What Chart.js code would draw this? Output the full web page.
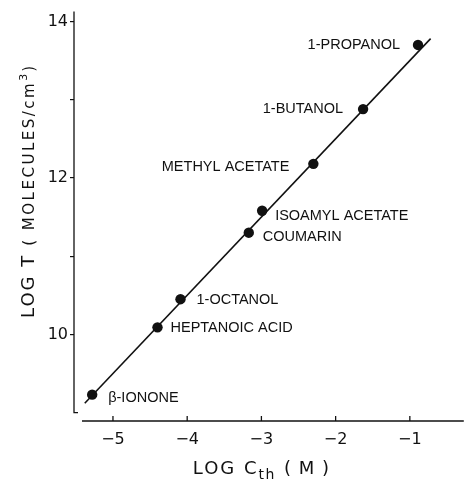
<!DOCTYPE html>
<html>
<head>
<meta charset="utf-8">
<script src="https://cdn.jsdelivr.net/npm/chart.js@4.4.0/dist/chart.umd.min.js"></script>
<style>
  html, body { margin: 0; padding: 0; background: #fff; }
</style>
</head>
<body>
<canvas id="thresholdChart" width="469" height="483"></canvas>
<script>
// values
var compounds = ['1-PROPANOL', '1-BUTANOL', 'METHYL ACETATE', 'ISOAMYL ACETATE', 'COUMARIN', '1-OCTANOL', 'HEPTANOIC ACID', 'β-IONONE'];
var logCth = [-0.89, -1.63, -2.30, -2.99, -3.17, -4.09, -4.40, -5.28];
var logT = [13.70, 12.88, 12.18, 11.58, 11.30, 10.45, 10.09, 9.23];
var fitX = [-5.38, -0.72];
var fitY = [9.12, 13.78];
var xTicks = [-5, -4, -3, -2, -1];
var yTicks = [10, 12, 14];
var yMinorTicks = [11, 13];

var ink = '#111';

// where each name sits next to its dot: [side, dx, dy]
var labelPlacement = [
    ['right', -18, 0], ['right', -20, 0], ['right', -24, 3], ['left', 13, 5],
    ['left', 14, 4], ['left', 16, 1], ['left', 13, 1], ['left', 16, 3]
];

var pointData = logCth.map(function(x, i) { return { x: x, y: logT[i] }; });
var fitData = fitX.map(function(x, i) { return { x: x, y: fitY[i] }; });

// axes in the figure are detached at the corner, so draw the lines by hand
var axisLines = {
    id: 'axisLines',
    afterDraw: function(chart) {
        var ctx = chart.ctx;
        var xs = chart.scales.x, ys = chart.scales.y;
        var area = chart.chartArea;
        ctx.save();
        ctx.strokeStyle = ink;
        ctx.lineWidth = 1.3;
        // y axis stops at 9
        var yBottom = ys.getPixelForValue(9);
        ctx.beginPath();
        ctx.moveTo(area.left, area.top);
        ctx.lineTo(area.left, yBottom);
        ctx.lineTo(area.left + 4, yBottom);
        ctx.stroke();
        // x axis
        ctx.beginPath();
        ctx.moveTo(area.left + 8, area.bottom);
        ctx.lineTo(area.right, area.bottom);
        ctx.stroke();
        xTicks.forEach(function(v) {
            var px = xs.getPixelForValue(v);
            ctx.beginPath();
            ctx.moveTo(px, area.bottom);
            ctx.lineTo(px, area.bottom - 5);
            ctx.stroke();
        });
        ctx.restore();
    }
};

var pointLabels = {
    id: 'pointLabels',
    afterDatasetsDraw: function(chart) {
        var ctx = chart.ctx;
        var meta = chart.getDatasetMeta(1);
        ctx.save();
        ctx.fillStyle = ink;
        ctx.font = '14.5px "Liberation Sans"';
        ctx.textBaseline = 'middle';
        meta.data.forEach(function(pt, i) {
            var p = labelPlacement[i];
            ctx.textAlign = p[0];
            ctx.fillText(compounds[i], pt.x + p[1], pt.y + p[2]);
        });
        ctx.restore();
    }
};

function drawPieces(ctx, pieces, x, y) {
    pieces.forEach(function(p) {
        ctx.font = p.font;
        ctx.letterSpacing = p.spacing || '0px';
        ctx.fillText(p.text, x, y + (p.shift || 0));
        x += ctx.measureText(p.text).width + (p.gap || 0);
    });
}

function piecesWidth(ctx, pieces) {
    var w = 0;
    pieces.forEach(function(p) {
        ctx.font = p.font;
        ctx.letterSpacing = p.spacing || '0px';
        w += ctx.measureText(p.text).width + (p.gap || 0);
    });
    return w;
}

var axisTitles = {
    id: 'axisTitles',
    afterDraw: function(chart) {
        var ctx = chart.ctx;
        var xs = chart.scales.x;
        ctx.save();
        ctx.fillStyle = ink;
        ctx.textAlign = 'left';
        ctx.textBaseline = 'alphabetic';

        var xTitle = [
            { text: 'LOG C', font: '18px "DejaVu Sans"', spacing: '2px' },
            { text: 'th', font: '14px "DejaVu Sans"', spacing: '1.5px', shift: 5, gap: 8 },
            { text: '( M )', font: '18px "DejaVu Sans"', spacing: '1px' }
        ];
        var cx = xs.getPixelForValue(-3);
        drawPieces(ctx, xTitle, cx - piecesWidth(ctx, xTitle) / 2, 474);

        var yTitle = [
            { text: 'LOG T', font: '18px "DejaVu Sans"', spacing: '2px', gap: 8 },
            { text: '( MOLECULES/cm', font: '15px "DejaVu Sans"', spacing: '2.5px' },
            { text: '3', font: '11px "DejaVu Sans"', shift: -7, gap: 2 },
            { text: ')', font: '15px "DejaVu Sans"' }
        ];
        ctx.translate(34, 318);
        ctx.rotate(-Math.PI / 2);
        drawPieces(ctx, yTitle, 0, 0);
        ctx.restore();
    }
};

var ctx = document.getElementById('thresholdChart').getContext('2d');
var chart = new Chart(ctx, {
    data: {
        datasets: [{
            type: 'line',
            data: fitData,
            borderColor: ink,
            borderWidth: 1.6,
            pointRadius: 0,
            fill: false,
            tension: 0
        }, {
            type: 'scatter',
            data: pointData,
            backgroundColor: ink,
            borderColor: ink,
            borderWidth: 0,
            pointRadius: 5.2
        }]
    },
    options: {
        responsive: false,
        animation: false,
        events: [],
        layout: { padding: { top: 5, left: 0, right: 0, bottom: 0 } },
        plugins: {
            legend: { display: false },
            tooltip: { enabled: false }
        },
        scales: {
            x: {
                type: 'linear',
                min: -5.525,
                max: -0.273,
                afterBuildTicks: function(scale) {
                    scale.ticks = xTicks.map(function(v) { return { value: v }; });
                },
                afterFit: function(scale) { scale.height = 62; },
                grid: { display: false, drawTicks: false },
                border: { display: false },
                ticks: {
                    color: ink,
                    padding: 9,
                    maxRotation: 0,
                    font: { family: 'DejaVu Sans', size: 16 },
                    callback: function(v) { return v < 0 ? '\u2212' + Math.abs(v) : String(v); }
                }
            },
            y: {
                type: 'linear',
                min: 8.893,
                max: 14.126,
                afterBuildTicks: function(scale) {
                    scale.ticks = yTicks.concat(yMinorTicks).sort().map(function(v) { return { value: v }; });
                },
                afterFit: function(scale) { scale.width = 74; },
                grid: {
                    drawOnChartArea: false,
                    drawTicks: true,
                    tickLength: 4,
                    color: ink,
                    lineWidth: 1.2
                },
                border: { display: false },
                ticks: {
                    color: ink,
                    padding: 2,
                    font: { family: 'DejaVu Sans', size: 16 },
                    callback: function(v) { return yTicks.indexOf(v) >= 0 ? String(v) : ''; }
                }
            }
        }
    },
    plugins: [axisLines, pointLabels, axisTitles]
});
</script>
</body>
</html>
